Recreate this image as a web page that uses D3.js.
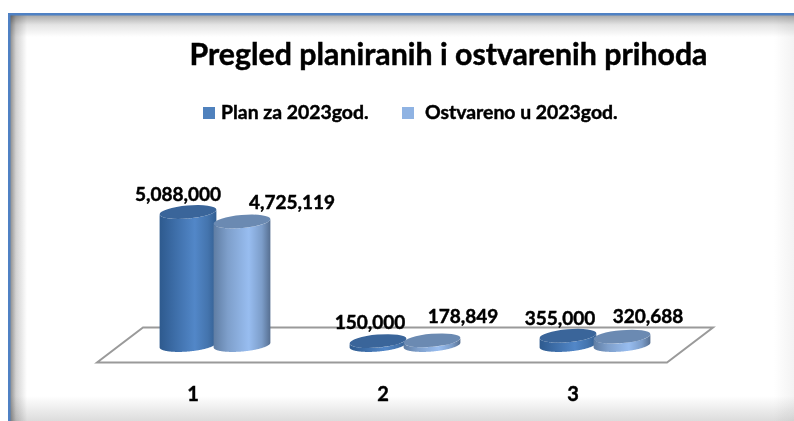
<!DOCTYPE html>
<html>
<head>
<meta charset="utf-8">
<script src="https://cdn.jsdelivr.net/npm/d3@7"></script>
<style>
html, body { margin: 0; padding: 0; background: white; overflow: hidden; }
text { font-family: Lato, "Open Sans", sans-serif; font-weight: 700; fill: #000; stroke: #000; stroke-width: 0.45px; }
</style>
</head>
<body>
<div id="chart"></div>
<script>
// values
const chart_title = "Pregled planiranih i ostvarenih prihoda";
const categories = ["1", "2", "3"];
const series_names = ["Plan za 2023god.", "Ostvareno u 2023god."];
const plan_values = [5088000, 150000, 355000];
const actual_values = [4725119, 178849, 320688];

const width = 794;
const height = 421;

const svg = d3.select("#chart")
    .append("svg")
    .attr("width", width)
    .attr("height", height)
    .style("display", "block")
    .style("background", "white");

const defs = svg.append("defs");

function add_gradient(id, horizontal, stops) {
    const g = defs.append("linearGradient")
	.attr("id", id)
	.attr("x1", 0).attr("y1", 0)
	.attr("x2", horizontal ? 1 : 0).attr("y2", horizontal ? 0 : 1);
    stops.forEach(s => {
	g.append("stop").attr("offset", s[0]).attr("stop-color", s[1]);
    });
}

add_gradient("body-0", true, [[0, "#2e5a8e"], [0.25, "#3c6ca6"], [0.62, "#5287c8"], [0.85, "#4474ad"], [1, "#335f92"]]);
add_gradient("body-1", true, [[0, "#5f7da3"], [0.25, "#7e9fcb"], [0.62, "#98bdf0"], [0.85, "#7c9dc9"], [1, "#566f91"]]);
add_gradient("shade-h", true, [[0, "#8b8b8b"], [0.35, "#d2d2d2"], [1, "#ffffff"]]);
add_gradient("shade-v", false, [[0, "#a8a8a8"], [0.45, "#e4e4e4"], [1, "#ffffff"]]);
add_gradient("shade-b", false, [[0, "#ffffff"], [1, "#dcdcdc"]]);
add_gradient("shade-r", true, [[0, "#ffffff"], [1, "#f3f3f3"]]);

// frame with soft inner shadow
const frame = svg.append("g").attr("id", "frame");
frame.append("rect").attr("x", 10).attr("y", 15).attr("width", 784).attr("height", 22).attr("fill", "url(#shade-v)");
frame.append("rect").attr("x", 10).attr("y", 396).attr("width", 784).attr("height", 25).attr("fill", "url(#shade-b)");
frame.append("rect").attr("x", 774).attr("y", 15).attr("width", 20).attr("height", 406).attr("fill", "url(#shade-r)").style("mix-blend-mode", "multiply");
frame.append("rect").attr("x", 10).attr("y", 15).attr("width", 17).attr("height", 406).attr("fill", "url(#shade-h)").style("mix-blend-mode", "multiply");
frame.append("rect").attr("x", 8).attr("y", 13).attr("width", 786).attr("height", 2.5).attr("fill", "#4f81c4");
frame.append("rect").attr("x", 8).attr("y", 13).attr("width", 2.5).attr("height", 408).attr("fill", "#4f81c4");

// scales
const x = d3.scaleBand().domain(categories).range([120, 690]);
const x_series = d3.scaleBand().domain([0, 1]).range([0, 108]);
const base_y = 345;
const y = d3.scaleLinear().domain([0, 5088000]).range([base_y, 212]);

// floor
const depth = 23;
const skew = 17.5;
const floor_path = d3.path();
floor_path.moveTo(x.range()[0] - depth, base_y + skew);
floor_path.lineTo(x.range()[0] + depth, base_y - skew);
floor_path.lineTo(x.range()[1] + depth, base_y - skew);
floor_path.lineTo(x.range()[1] - depth, base_y + skew);
floor_path.closePath();
svg.append("path")
    .attr("d", floor_path.toString())
    .attr("fill", "none")
    .attr("stroke", "#9a9a9a")
    .attr("stroke-width", 2);

// cylinders
const cyl_rx = 28.5;
const cyl_ry = 6.5;
const tilt = -5;

const rows = [];
categories.forEach((c, i) => {
    rows.push({cat: c, s: 0, value: plan_values[i]});
    rows.push({cat: c, s: 1, value: actual_values[i]});
});

function cylinder_x(d) {
    return x(d.cat) + (x.bandwidth() - 108) / 2 + x_series(d.s) + x_series.bandwidth() / 2;
}

function ellipse_point(cx, cy, a) {
    const t = tilt * Math.PI / 180;
    const ex = cyl_rx * Math.cos(a);
    const ey = cyl_ry * Math.sin(a);
    return [cx + ex * Math.cos(t) - ey * Math.sin(t), cy + ex * Math.sin(t) + ey * Math.cos(t)];
}

function cylinder_body(d) {
    const cx = cylinder_x(d);
    const line = d3.line();
    const pts = [];
    d3.range(181).forEach(k => pts.push(ellipse_point(cx, base_y, k * Math.PI / 180)));
    d3.range(180, -1, -1).forEach(k => pts.push(ellipse_point(cx, y(d.value), k * Math.PI / 180)));
    return line(pts) + "Z";
}

const cyl = svg.append("g").attr("id", "cylinders")
    .selectAll("g")
    .data(rows)
    .join("g");

cyl.append("path")
    .attr("d", cylinder_body)
    .attr("fill", d => `url(#body-${d.s})`);

cyl.append("ellipse")
    .attr("cx", cylinder_x)
    .attr("cy", d => y(d.value))
    .attr("rx", cyl_rx)
    .attr("ry", cyl_ry)
    .attr("transform", d => `rotate(${tilt} ${cylinder_x(d)} ${y(d.value)})`)
    .attr("fill", d => d.s == 0 ? "#3a659a" : "#6b8ab2");

// data labels, moved by hand off the cylinders as in the original
const label_dx = [-10, 50, -8, 31, -8, 26];
const label_dy = [-11, -12, -12, -17, -11, -14];

svg.append("g").attr("id", "data-labels")
    .selectAll("text")
    .data(rows)
    .join("text")
    .attr("x", (d, i) => cylinder_x(d) + label_dx[i])
    .attr("y", (d, i) => y(d.value) + label_dy[i])
    .attr("text-anchor", "middle")
    .attr("font-size", 19)
    .text(d => d3.format(",")(d.value));

// category labels
svg.append("g").attr("id", "categories")
    .selectAll("text")
    .data(categories)
    .join("text")
    .attr("x", d => x(d) + x.bandwidth() / 2 - 22)
    .attr("y", 401)
    .attr("text-anchor", "middle")
    .attr("font-size", 20)
    .text(d => d);

// title
svg.append("text")
    .attr("x", 448.5)
    .attr("y", 65)
    .attr("text-anchor", "middle")
    .attr("font-size", 30.3)
    .text(chart_title);

// legend
const legend_x = [203, 402];
const legend_colors = ["#4f81bd", "#8fb3e3"];
const legend = svg.append("g").attr("id", "legend")
    .selectAll("g")
    .data(series_names)
    .join("g")
    .attr("transform", (d, i) => `translate(${legend_x[i]},107)`);

legend.append("rect")
    .attr("width", 12)
    .attr("height", 12)
    .attr("fill", (d, i) => legend_colors[i]);

legend.append("text")
    .attr("x", (d, i) => i == 0 ? 18 : 23)
    .attr("y", 12)
    .attr("font-size", 19.4)
    .text(d => d);
</script>
</body>
</html>
